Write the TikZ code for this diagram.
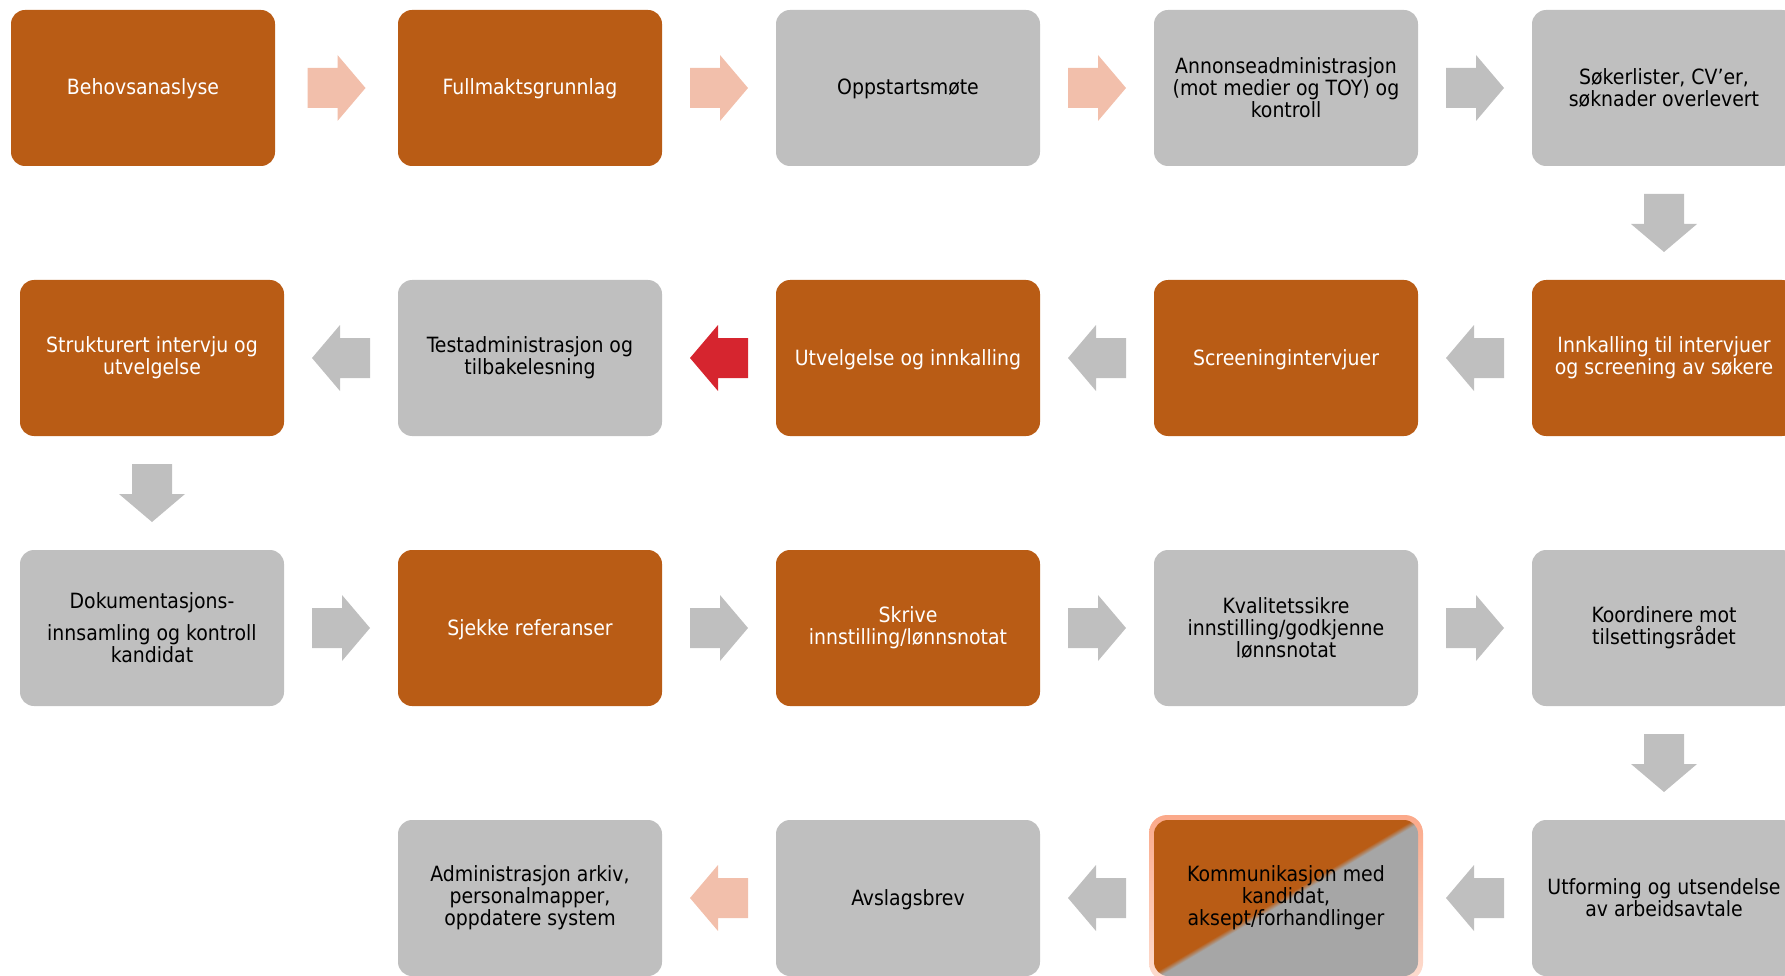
\documentclass[tikz,border=0pt]{standalone}
\usepackage{fontspec}
\setmainfont{DejaVu Sans Condensed}
\usetikzlibrary{calc}
\definecolor{orng}{HTML}{B95C15}
\definecolor{gry}{HTML}{BFBFBF}
\definecolor{dgry}{HTML}{A6A6A6}
\definecolor{slmn}{HTML}{F2BFAB}
\definecolor{redarr}{HTML}{D6252F}
\definecolor{glowtop}{HTML}{FBA98A}
\definecolor{glowbot}{HTML}{FDDDD0}
\pgfdeclareverticalshading{diagsplit}{100bp}{color(0bp)=(dgry); color(49.3bp)=(dgry); color(50.7bp)=(orng); color(100bp)=(orng)}
\newcommand{\blockarrow}[3]{%
  \fill[#3, shift={#1}, rotate=#2] (-29,-20) -- (1,-20) -- (1,-33) -- (29,0) -- (1,33) -- (1,20) -- (-29,20) -- cycle;}
\begin{document}
\begin{tikzpicture}[x=1pt,y=-1pt,
  stepbox/.style={rectangle, rounded corners=14pt, minimum width=264pt, minimum height=156pt,
    inner sep=0pt, align=center, font=\fontsize{21}{22}\selectfont},
  oneline/.style={text height=15pt, text depth=1pt},
  obox/.style={stepbox, fill=orng, text=white},
  gbox/.style={stepbox, fill=gry, text=black}]
\useasboundingbox (0,0) rectangle (1785,976);
\clip (0,0) rectangle (1785,976);
% row 1
\node[obox, oneline] (r1c1) at (143,88) {Behovsanaslyse};
\node[obox, oneline] (r1c2) at (530,88) {Fullmaktsgrunnlag};
\node[gbox, oneline] (r1c3) at (908,88) {Oppstartsmøte};
\node[gbox] (r1c4) at (1286,88) {Annonseadministrasjon\\(mot medier og TOY) og\\kontroll};
\node[gbox] (r1c5) at (1664,88) {Søkerlister, CV’er,\\søknader overlevert};
% row 2
\node[obox] (r2c5) at (1664,358) {Innkalling til intervjuer\\og screening av søkere};
\node[obox, oneline] (r2c4) at (1286,358) {Screeningintervjuer};
\node[obox, oneline] (r2c3) at (908,358) {Utvelgelse og innkalling};
\node[gbox] (r2c2) at (530,358) {Testadministrasjon og\\tilbakelesning};
\node[obox] (r2c1) at (152,358) {Strukturert intervju og\\utvelgelse};
% row 3
\node[gbox] (r3c1) at (152,628) {Dokumentasjons-\\[10pt]innsamling og kontroll\\kandidat};
\node[obox, oneline] (r3c2) at (530,628) {Sjekke referanser};
\node[obox] (r3c3) at (908,628) {Skrive\\innstilling/lønnsnotat};
\node[gbox] (r3c4) at (1286,628) {Kvalitetssikre\\innstilling/godkjenne\\lønnsnotat};
\node[gbox] (r3c5) at (1664,628) {Koordinere mot\\tilsettingsrådet};
% row 4
\node[gbox] (r4c5) at (1664,898) {Utforming og utsendelse\\av arbeidsavtale};
\node[rectangle, rounded corners=18pt, minimum width=274pt, minimum height=166pt,
      top color=glowtop, bottom color=glowbot] (kglow) at (1286,898) {};
\node[stepbox, shade, shading=diagsplit, shading angle=30.6, text=black] (r4c4) at (1286,898)
  {Kommunikasjon med\\kandidat,\\aksept/forhandlinger};
\node[gbox, oneline] (r4c3) at (908,898) {Avslagsbrev};
\node[gbox] (r4c2) at (530,898) {Administrasjon arkiv,\\personalmapper,\\oppdatere system};
% arrow positions
\coordinate (a11) at ($(r1c1.east)!.5!(r1c2.west)$);
\coordinate (a12) at ($(r1c2.east)!.5!(r1c3.west)$);
\coordinate (a13) at ($(r1c3.east)!.5!(r1c4.west)$);
\coordinate (a14) at ($(r1c4.east)!.5!(r1c5.west)$);
\coordinate (d1) at ($(r1c5.south)!.5!(r2c5.north)$);
\coordinate (a24) at ($(r2c4.east)!.5!(r2c5.west)$);
\coordinate (a23) at ($(r2c3.east)!.5!(r2c4.west)$);
\coordinate (a22) at ($(r2c2.east)!.5!(r2c3.west)$);
\coordinate (a21) at ($(r2c1.east)!.5!(r2c2.west)$);
\coordinate (d2) at ($(r2c1.south)!.5!(r3c1.north)$);
\coordinate (a31) at ($(r3c1.east)!.5!(r3c2.west)$);
\coordinate (a32) at ($(r3c2.east)!.5!(r3c3.west)$);
\coordinate (a33) at ($(r3c3.east)!.5!(r3c4.west)$);
\coordinate (a34) at ($(r3c4.east)!.5!(r3c5.west)$);
\coordinate (d3) at ($(r3c5.south)!.5!(r4c5.north)$);
\coordinate (a44) at ($(r4c4.east)!.5!(r4c5.west)$);
\coordinate (a43) at ($(r4c3.east)!.5!(r4c4.west)$);
\coordinate (a42) at ($(r4c2.east)!.5!(r4c3.west)$);
% arrows
\blockarrow{(a11)}{0}{slmn}
\blockarrow{(a12)}{0}{slmn}
\blockarrow{(a13)}{0}{slmn}
\blockarrow{(a14)}{0}{gry}
\blockarrow{(d1)}{-90}{gry}
\blockarrow{(a24)}{180}{gry}
\blockarrow{(a23)}{180}{gry}
\blockarrow{(a22)}{180}{redarr}
\blockarrow{(a21)}{180}{gry}
\blockarrow{(d2)}{-90}{gry}
\blockarrow{(a31)}{0}{gry}
\blockarrow{(a32)}{0}{gry}
\blockarrow{(a33)}{0}{gry}
\blockarrow{(a34)}{0}{gry}
\blockarrow{(d3)}{-90}{gry}
\blockarrow{(a44)}{180}{gry}
\blockarrow{(a43)}{180}{gry}
\blockarrow{(a42)}{180}{slmn}
\end{tikzpicture}
\end{document}
